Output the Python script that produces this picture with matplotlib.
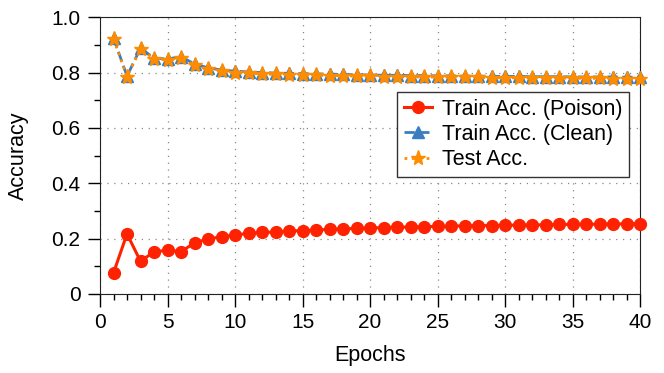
import numpy as np
import matplotlib
matplotlib.use("Agg")
import matplotlib.pyplot as plt
from matplotlib.ticker import MultipleLocator, FuncFormatter

plt.rcParams['font.family'] = ['Liberation Sans', 'DejaVu Sans']

epochs = np.arange(1, 41)
poison = [0.076, 0.217, 0.118, 0.152, 0.158, 0.153, 0.184, 0.199, 0.206, 0.213,
          0.219, 0.222, 0.224, 0.227, 0.229, 0.231, 0.233, 0.235, 0.237, 0.238,
          0.240, 0.241, 0.242, 0.243, 0.244, 0.245, 0.246, 0.247, 0.247, 0.248,
          0.249, 0.249, 0.250, 0.251, 0.251, 0.252, 0.252, 0.253, 0.253, 0.254]
clean = [0.925, 0.787, 0.888, 0.852, 0.849, 0.857, 0.831, 0.817, 0.809, 0.805,
         0.802, 0.800, 0.798, 0.797, 0.796, 0.795, 0.794, 0.793, 0.792, 0.791,
         0.790, 0.790, 0.789, 0.789, 0.788, 0.788, 0.787, 0.787, 0.786, 0.786,
         0.786, 0.785, 0.785, 0.785, 0.784, 0.784, 0.784, 0.784, 0.783, 0.783]
test = [0.922, 0.785, 0.886, 0.849, 0.846, 0.853, 0.827, 0.812, 0.804, 0.800,
        0.797, 0.795, 0.793, 0.792, 0.791, 0.790, 0.789, 0.788, 0.787, 0.786,
        0.785, 0.785, 0.784, 0.784, 0.783, 0.783, 0.782, 0.782, 0.781, 0.781,
        0.781, 0.780, 0.780, 0.780, 0.779, 0.779, 0.779, 0.778, 0.778, 0.778]

fig, ax = plt.subplots(figsize=(6.64, 3.73), dpi=100)
ax.plot(epochs, poison, "-o", color="#ff2200", lw=2.2, ms=8.5, label="Train Acc. (Poison)", clip_on=False, zorder=3)
ax.plot(epochs, clean, "--^", color="#3b7ec0", lw=2, ms=8, label="Train Acc. (Clean)", clip_on=False, zorder=4)
ax.plot(epochs, test, ":*", color="#ff8c00", lw=2, ms=11, label="Test Acc.", clip_on=False, zorder=5)

ax.set_xlim(0, 40); ax.set_ylim(0, 1.0)
ax.xaxis.set_major_locator(MultipleLocator(5)); ax.xaxis.set_minor_locator(MultipleLocator(1))
ax.yaxis.set_major_locator(MultipleLocator(0.2)); ax.yaxis.set_minor_locator(MultipleLocator(0.1))
ax.yaxis.set_major_formatter(FuncFormatter(lambda v, p: "0" if v == 0 else f"{v:.1f}"))
ax.tick_params(which="major", length=9, width=1, labelsize=15, direction="out", pad=5)
ax.tick_params(which="minor", length=4.5, width=1, direction="out")
ax.grid(True, which="major", ls=(0, (1, 4.5)), color="#888888", lw=0.9)
for s in ax.spines.values():
    s.set_color("#222222")
ax.set_xlabel("Epochs", fontsize=15.5, labelpad=9)
ax.set_ylabel("Accuracy", fontsize=15.5, labelpad=16)
leg = ax.legend(loc="upper right", bbox_to_anchor=(0.98, 0.729), fontsize=15.5, fancybox=False,
                edgecolor="#333333", framealpha=1, handlelength=1.3, handletextpad=0.5,
                borderpad=0.3, labelspacing=0.2, borderaxespad=0)
fig.subplots_adjust(left=0.1506, right=0.964, top=0.954, bottom=0.212)
fig.savefig("out.png", dpi=100)
